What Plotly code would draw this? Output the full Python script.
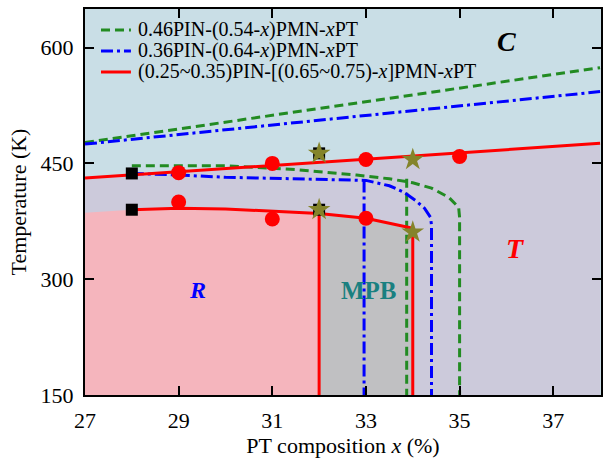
import plotly.graph_objects as go

# ---- phase-boundary data (PT content in %, temperature in K) ----
# Curie line T_C of the (0.25~0.35)PIN series
tc_x = [27, 38]
tc_T = [431, 476]

# R -> T (rhombohedral / MPB) boundary of the same series
rt_x = [28, 29, 30, 31, 32, 33, 34]
rt_T = [390, 392, 391, 388, 385, 379, 366]
r_left_x = 27
r_left_T = 386

# MPB limits of the same series
mpb_left = 32
mpb_right = 34

# 0.46PIN-(0.54-x)PMN-xPT
g_tc_x = [27, 38]
g_tc_T = [477, 574]
g_mpb_x = [28, 30, 31.5, 32.8, 33.5, 34, 34.4, 34.77, 34.98, 35, 35]
g_mpb_T = [447, 447, 442, 435, 430, 425, 418, 406, 393, 380, 150]
g_in_x = [33.87, 33.87]
g_in_T = [430, 150]

# 0.36PIN-(0.64-x)PMN-xPT
b_tc_x = [27, 38]
b_tc_T = [475, 543]
b_mpb_x = [28, 29, 30, 32, 33, 33.5, 33.8, 34.06, 34.25, 34.38, 34.4, 34.4]
b_mpb_T = [437, 435, 432, 429, 428, 421, 413, 402, 392, 380, 370, 150]
b_in_x = [32.96, 32.96]
b_in_T = [428, 150]

# measured points
circ_x = [29, 31, 33, 35, 29, 31, 33]
circ_T = [438, 450, 455, 459, 400, 378, 379]
sq_x = [28, 28, 32, 32]
sq_T = [437, 390, 463, 390]
star_x = [32, 32, 34, 34]
star_T = [463, 390, 455, 361]

# legend entries
legend_names = [
    "0.46PIN-(0.54-<i>x</i>)PMN-<i>x</i>PT",
    "0.36PIN-(0.64-<i>x</i>)PMN-<i>x</i>PT",
    "(0.25~0.35)PIN-[(0.65~0.75)-<i>x</i>]PMN-<i>x</i>PT",
]

T_MIN, T_MAX = 150, 650
X_MIN, X_MAX = 27, 38.02

SERIF = "Liberation Serif, Times New Roman, Times, serif"
C_BG = "#c9dee6"
C_LAV = "#cccadb"
C_PINK = "#f5b5bd"
C_GRAY = "#c0c0c2"
GREEN = "#228b22"
BLUE = "#0000ff"
RED = "#ff0000"
OLIVE = "#84842a"
GDASH = "9px,5px"
BDASH = "12px,4px,3px,4px"


def curve_at(x, xs, ys):
    for i in range(len(xs) - 1):
        if xs[i] <= x <= xs[i + 1]:
            t = (x - xs[i]) / (xs[i + 1] - xs[i])
            return ys[i] + t * (ys[i + 1] - ys[i])
    return ys[-1]


fig = go.Figure()

# ferroelectric (below Curie line) region
fig.add_trace(go.Scatter(
    x=tc_x + tc_x[::-1], y=tc_T + [T_MIN, T_MIN],
    fill="toself", fillcolor=C_LAV, line=dict(width=0),
    mode="lines", showlegend=False, hoverinfo="skip"))

# rhombohedral region
r_xs = [r_left_x] + [x for x in rt_x if x <= mpb_left]
r_Ts = [r_left_T] + [t for x, t in zip(rt_x, rt_T) if x <= mpb_left]
fig.add_trace(go.Scatter(
    x=r_xs + [mpb_left, r_left_x], y=r_Ts + [T_MIN, T_MIN],
    fill="toself", fillcolor=C_PINK, line=dict(width=0),
    mode="lines", showlegend=False, hoverinfo="skip"))

# MPB region
m_xs = [x for x in rt_x if mpb_left <= x <= mpb_right]
m_Ts = [t for x, t in zip(rt_x, rt_T) if mpb_left <= x <= mpb_right]
fig.add_trace(go.Scatter(
    x=m_xs + [mpb_right, mpb_left], y=m_Ts + [T_MIN, T_MIN],
    fill="toself", fillcolor=C_GRAY, line=dict(width=0),
    mode="lines", showlegend=False, hoverinfo="skip"))

# green series
for xs, ys in ((g_tc_x, g_tc_T), (g_mpb_x, g_mpb_T), (g_in_x, g_in_T)):
    fig.add_trace(go.Scatter(x=xs, y=ys, mode="lines",
                             line=dict(color=GREEN, width=3, dash=GDASH),
                             showlegend=False))

# blue series
for xs, ys in ((b_tc_x, b_tc_T), (b_mpb_x, b_mpb_T), (b_in_x, b_in_T)):
    fig.add_trace(go.Scatter(x=xs, y=ys, mode="lines",
                             line=dict(color=BLUE, width=3, dash=BDASH),
                             showlegend=False))

# red series
fig.add_trace(go.Scatter(x=tc_x, y=tc_T, mode="lines",
                         line=dict(color=RED, width=3), showlegend=False))
fig.add_trace(go.Scatter(x=rt_x, y=rt_T, mode="lines",
                         line=dict(color=RED, width=3), showlegend=False))
for xv in (mpb_left, mpb_right):
    fig.add_trace(go.Scatter(x=[xv, xv], y=[T_MIN, curve_at(xv, rt_x, rt_T)],
                             mode="lines", line=dict(color=RED, width=3),
                             showlegend=False))

# markers
fig.add_trace(go.Scatter(x=sq_x, y=sq_T, mode="markers",
                         marker=dict(symbol="square", size=12, color="black"),
                         showlegend=False))
fig.add_trace(go.Scatter(x=star_x, y=star_T, mode="markers",
                         marker=dict(symbol="star", size=17, color=OLIVE,
                                     line=dict(width=0)),
                         showlegend=False))
fig.add_trace(go.Scatter(x=circ_x, y=circ_T, mode="markers",
                         marker=dict(symbol="circle", size=15, color=RED,
                                     line=dict(width=0)),
                         showlegend=False))

# compact legend: line keys + labels in the upper-left corner
key_styles = [(GREEN, GDASH), (BLUE, BDASH), (RED, "solid")]
row_y = [0.9456, 0.8912, 0.8368]
for (col, dash), yy, name in zip(key_styles, row_y, legend_names):
    fig.add_shape(type="line", xref="paper", yref="paper",
                  x0=0.031, x1=0.089, y0=yy, y1=yy,
                  line=dict(color=col, width=3, dash=dash))
    fig.add_annotation(xref="paper", yref="paper", x=0.0985, y=yy,
                       xanchor="left", yanchor="middle", text=name,
                       showarrow=False,
                       font=dict(family=SERIF, size=20, color="black"))

# phase labels
labels = [
    dict(x=36.0, y=608, text="<b><i>C</i></b>", color="black", size=28),
    dict(x=29.4, y=286, text="<b><i>R</i></b>", color=BLUE, size=24),
    dict(x=33.06, y=286, text="<b>MPB</b>", color="#1a8080", size=25),
    dict(x=36.2, y=340, text="<b><i>T</i></b>", color=RED, size=28),
]
for lb in labels:
    fig.add_annotation(x=lb["x"], y=lb["y"], xref="x", yref="y",
                       text=lb["text"], showarrow=False,
                       font=dict(family=SERIF, size=lb["size"], color=lb["color"]))

axis_common = dict(
    showline=True, linecolor="black", linewidth=2, mirror="ticks",
    ticks="inside", ticklen=9, tickwidth=2, tickcolor="black",
    showgrid=False, zeroline=False, ticklabelstandoff=5,
    tickfont=dict(family=SERIF, size=22, color="black"),
)

fig.update_layout(
    width=603, height=461,
    margin=dict(l=85, r=0, t=9, b=66),
    paper_bgcolor="white",
    plot_bgcolor=C_BG,
    font=dict(family=SERIF, color="black"),
    xaxis=dict(range=[X_MIN, X_MAX], tickvals=[27, 29, 31, 33, 35, 37],
               title=dict(text="PT composition <i>x</i> (%)",
                          font=dict(family=SERIF, size=22), standoff=2),
               **axis_common),
    yaxis=dict(range=[T_MIN, T_MAX], tickvals=[150, 300, 450, 600],
               title=dict(text="Temperature (K)",
                          font=dict(family=SERIF, size=22), standoff=8),
               **axis_common),
    showlegend=False,
)

fig.write_html("out.html")
